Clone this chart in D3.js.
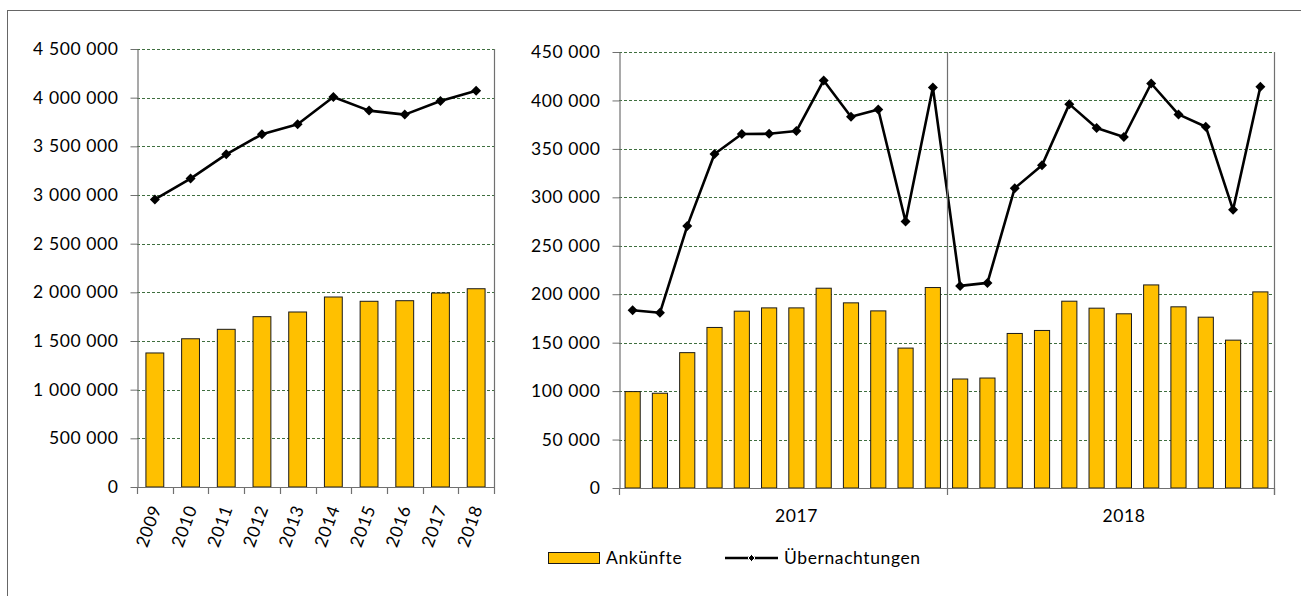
<!DOCTYPE html>
<html>
<head>
<meta charset="utf-8">
<script src="https://cdn.jsdelivr.net/npm/d3@7"></script>
<style>
  html, body { margin: 0; padding: 0; background: #fff; }
  svg { display: block; }
  text { font-family: Lato, "Open Sans", sans-serif; fill: #000; }
</style>
</head>
<body>
<svg id="chart" width="1301" height="596"></svg>
<script>
// Yearly totals 2009–2018
const years = ["2009", "2010", "2011", "2012", "2013", "2014", "2015", "2016", "2017", "2018"];
const arrivalsYearly = [1377000, 1523000, 1620000, 1750000, 1798000, 1952000, 1908000, 1914000, 1993000, 2037000];
const nightsYearly = [2955000, 3169000, 3418000, 3624000, 3726000, 4007000, 3867000, 3826000, 3966000, 4072000];

// Monthly values, January 2017 – December 2018
const periods = ["2017", "2018"];
const monthNumbers = [1, 2, 3, 4, 5, 6, 7, 8, 9, 10, 11, 12];
const arrivalsMonthly = [
  99500, 97800, 139700, 165700, 182500, 185900, 185900, 206200, 191100, 182800, 144400, 206900,
  112500, 113500, 159500, 162600, 192800, 185600, 179800, 209600, 187000, 176300, 152600, 202400
];
const nightsMonthly = [
  183500, 180800, 270300, 344800, 365300, 365600, 368400, 420600, 383200, 390700, 275100, 413400,
  208600, 211700, 309400, 333100, 396200, 371500, 362300, 417500, 385600, 372900, 287100, 414100
];

// Left y-axis ticks and right y-axis ticks
const leftTicks = [0, 500000, 1000000, 1500000, 2000000, 2500000, 3000000, 3500000, 4000000, 4500000];
const rightTicks = [0, 50000, 100000, 150000, 200000, 250000, 300000, 350000, 400000, 450000];

const legendLabels = ["Ankünfte", "Übernachtungen"];

const fmt = d3.formatLocale({ decimal: ",", thousands: "\u00a0", grouping: [3], currency: ["", ""] }).format(",d");

const BAR_FILL = "#FFC000";
const BAR_STROKE = "#1a1a1a";
const AXIS = "#707070";
const GRID = "#3f6f3f";
const FONT_SIZE = "17.5px";
const LETTER = "0.6px";

const svg = d3.select("#chart");

// outer frame
svg.append("rect")
  .attr("x", 7.5).attr("y", 10.5)
  .attr("width", 1400).attr("height", 700)
  .attr("fill", "none").attr("stroke", "#666").attr("stroke-width", 1);

function diamond(r) {
  return `M0,${-r}L${r},0L0,${r}L${-r},0Z`;
}

function styleText(sel) {
  return sel.style("font-size", FONT_SIZE).style("letter-spacing", LETTER);
}

function drawPanel(cfg) {
  const g = svg.append("g");
  const { x, y, cats, bars, line, ticks, left, right, top, bottom } = cfg;

  // gridlines
  g.append("g").selectAll("line")
    .data(ticks.filter(t => t > 0))
    .join("line")
    .attr("x1", left).attr("x2", right)
    .attr("y1", d => Math.round(y(d)) + 0.5).attr("y2", d => Math.round(y(d)) + 0.5)
    .attr("stroke", GRID).attr("stroke-width", 1)
    .attr("stroke-dasharray", "3,2");

  // right edge of the plot area
  g.append("line")
    .attr("x1", right + 0.5).attr("x2", right + 0.5)
    .attr("y1", top).attr("y2", bottom + (cfg.rightTickDown || 0))
    .attr("stroke", AXIS).attr("stroke-width", 1.2);

  // bars
  g.append("g").selectAll("rect")
    .data(bars)
    .join("rect")
    .attr("x", (d, i) => x(cats[i]))
    .attr("width", x.bandwidth())
    .attr("y", d => y(d))
    .attr("height", d => y(0) - y(d))
    .attr("fill", BAR_FILL)
    .attr("stroke", BAR_STROKE).attr("stroke-width", 1);

  // y axis
  const yAxis = d3.axisLeft(y).tickValues(ticks).tickFormat(fmt)
    .tickSize(7).tickSizeOuter(0).tickPadding(12);
  const ya = g.append("g").attr("transform", `translate(${left + 0.5},0)`).call(yAxis);
  ya.select(".domain").attr("stroke", AXIS).attr("stroke-width", 1.2);
  ya.selectAll(".tick line").attr("stroke", AXIS);
  styleText(ya.selectAll(".tick text")
    .attr("font-family", "Lato, 'Open Sans', sans-serif")
    .attr("fill", "#000"));

  // x axis baseline
  g.append("line")
    .attr("x1", left).attr("x2", right + 1)
    .attr("y1", Math.round(y(0)) + 0.5).attr("y2", Math.round(y(0)) + 0.5)
    .attr("stroke", AXIS).attr("stroke-width", 1.2);

  // line series with diamond markers
  const cx = (d, i) => x(cats[i]) + x.bandwidth() / 2;
  g.append("path")
    .datum(line)
    .attr("fill", "none").attr("stroke", "#000").attr("stroke-width", 2.6)
    .attr("stroke-linejoin", "round")
    .attr("d", d3.line().x(cx).y(d => y(d)));
  g.append("g").selectAll("path")
    .data(line)
    .join("path")
    .attr("d", diamond(5))
    .attr("transform", (d, i) => `translate(${cx(d, i)},${y(d)})`)
    .attr("fill", "#000");

  return g;
}

// ---------- left panel: yearly ----------
const L = { left: 137, right: 494, top: 49, bottom: 487 };
const xL = d3.scaleBand().domain(years).range([L.left, L.right]).paddingInner(0.5).paddingOuter(0.25);
const yL = d3.scaleLinear().domain([0, 4500000]).range([L.bottom, L.top]);
const gL = drawPanel({ x: xL, y: yL, cats: years, bars: arrivalsYearly, line: nightsYearly, ticks: leftTicks, ...L });

// category boundary ticks
gL.append("g").selectAll("line")
  .data(d3.range(years.length + 1))
  .join("line")
  .attr("x1", i => Math.round(L.left + i * xL.step()) + 0.5)
  .attr("x2", i => Math.round(L.left + i * xL.step()) + 0.5)
  .attr("y1", L.bottom).attr("y2", L.bottom + 7)
  .attr("stroke", AXIS).attr("stroke-width", 1.2);

// rotated year labels
styleText(gL.append("g").selectAll("text")
  .data(years)
  .join("text")
  .attr("transform", d => `translate(${xL(d) + xL.bandwidth() / 2 + 1},${L.bottom + 19}) rotate(-70)`)
  .attr("text-anchor", "end")
  .attr("dy", "0.35em"))
  .text(d => d);

// ---------- right panel: monthly ----------
const R = { left: 619, right: 1274, top: 52, bottom: 488, rightTickDown: 7 };
const monthKeys = periods.flatMap(p => monthNumbers.map(m => `${p}-${m}`));
const xR = d3.scaleBand().domain(monthKeys).range([R.left, R.right]).paddingInner(0.8 / 1.8).paddingOuter(0.4 / 1.8);
const yR = d3.scaleLinear().domain([0, 450000]).range([R.bottom, R.top]);
const gR = drawPanel({ x: xR, y: yR, cats: monthKeys, bars: arrivalsMonthly, line: nightsMonthly, ticks: rightTicks, ...R });

// year divider and group ticks
const groupWidth = xR.step() * monthNumbers.length;
gR.append("g").selectAll("line")
  .data(d3.range(periods.length + 1))
  .join("line")
  .attr("x1", i => Math.round(R.left + i * groupWidth) + 0.5)
  .attr("x2", i => Math.round(R.left + i * groupWidth) + 0.5)
  .attr("y1", i => (i > 0 && i < periods.length) ? R.top : R.bottom)
  .attr("y2", R.bottom + 7)
  .attr("stroke", AXIS).attr("stroke-width", 1.2);

styleText(gR.append("g").selectAll("text")
  .data(periods)
  .join("text")
  .attr("x", (d, i) => R.left + (i + 0.5) * groupWidth + xR.step() / 2)
  .attr("y", R.bottom + 28)
  .attr("dy", "0.35em")
  .attr("text-anchor", "middle"))
  .text(d => d);

// ---------- legend ----------
const lg = svg.append("g");
lg.append("rect")
  .attr("x", 548.5).attr("y", 552.5).attr("width", 51).attr("height", 11)
  .attr("fill", BAR_FILL).attr("stroke", BAR_STROKE).attr("stroke-width", 1);
styleText(lg.append("text")
  .attr("x", 606).attr("y", 558).attr("dy", "0.35em"))
  .text(legendLabels[0]);
lg.append("line")
  .attr("x1", 725).attr("x2", 778).attr("y1", 558).attr("y2", 558)
  .attr("stroke", "#000").attr("stroke-width", 2.6);
lg.append("path")
  .attr("d", diamond(3.5))
  .attr("transform", "translate(751.5,558)")
  .attr("fill", "#000").attr("stroke", "#fff").attr("stroke-width", 1);
styleText(lg.append("text")
  .attr("x", 784).attr("y", 558).attr("dy", "0.35em"))
  .text(legendLabels[1]);
</script>
</body>
</html>
